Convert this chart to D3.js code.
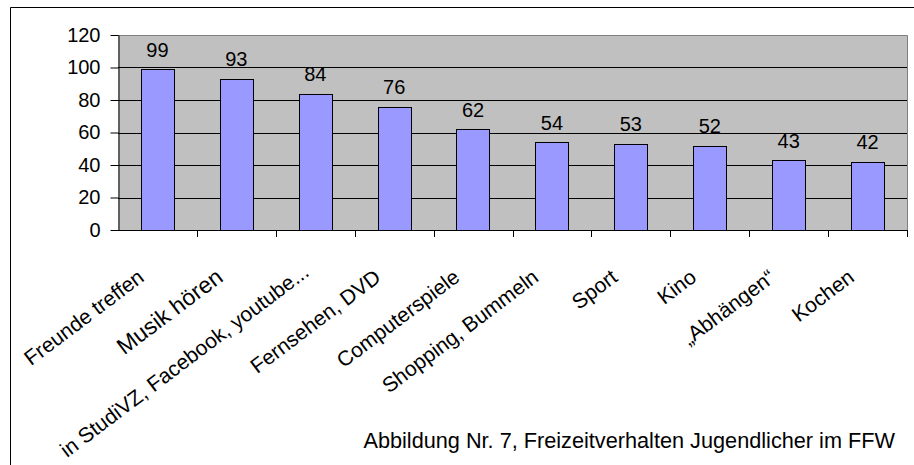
<!DOCTYPE html>
<html>
<head>
<meta charset="utf-8">
<script src="https://cdn.jsdelivr.net/npm/d3@7"></script>
<style>
    body { margin: 0; background: #fff; }
    svg { display: block; font-family: "Liberation Sans", Arial, sans-serif; }
</style>
</head>
<body>
<svg width="914" height="465"></svg>
<script>
let categories = ["Freunde treffen", "Musik hören", "in StudiVZ, Facebook, youtube...", "Fernsehen, DVD",
    "Computerspiele", "Shopping, Bummeln", "Sport", "Kino", "\u201EAbhängen\u201C", "Kochen"];
let values = [99, 93, 84, 76, 62, 54, 53, 52, 43, 42];
let yTicks = [0, 20, 40, 60, 80, 100, 120];
let caption = "Abbildung Nr. 7, Freizeitverhalten Jugendlicher im FFW";

let plotLeft = 118;
let plotRight = 907;
let plotTop = 35;
let plotBottom = 230;
let labelAngle = 37;

function draw () {
    const svg = d3.select("svg");

    // outer frame, cut off at right and bottom
    svg.append("path")
        .attr("d", "M10.5,465V7.5H914")
        .attr("fill", "none")
        .attr("stroke", "#000");

    const x = d3.scaleBand()
        .domain(categories)
        .range([plotLeft, plotRight]);
    const y = d3.scaleLinear()
        .domain([0, 120])
        .range([plotBottom, plotTop]);

    svg.append("rect")
        .attr("x", plotLeft)
        .attr("y", plotTop)
        .attr("width", plotRight - plotLeft)
        .attr("height", plotBottom - plotTop)
        .attr("fill", "#c0c0c0");

    // gridlines
    svg.append("g")
        .selectAll("line")
            .data(yTicks.filter(d => d > 0 && d < 120))
        .enter().append("line")
            .attr("x1", plotLeft)
            .attr("x2", plotRight)
            .attr("y1", d => Math.round(y(d)) + 0.5)
            .attr("y2", d => Math.round(y(d)) + 0.5)
            .attr("stroke", "#000");

    // plot border top / right
    svg.append("path")
        .attr("d", `M${plotLeft},${plotTop + 0.5}H${plotRight + 0.5}V${plotBottom}`)
        .attr("fill", "none")
        .attr("stroke", "#808080");

    const bw = x.bandwidth() * 0.42;
    svg.append("g")
        .selectAll("rect")
            .data(values)
        .enter().append("rect")
            .attr("x", (d, i) => Math.round(x(categories[i]) + x.bandwidth() / 2 - bw / 2) + 0.5)
            .attr("y", d => Math.round(y(d)) + 0.5)
            .attr("width", Math.round(bw))
            .attr("height", d => Math.round(y(0)) - Math.round(y(d)))
            .attr("fill", "#9999ff")
            .attr("stroke", "#000");

    svg.append("g")
        .selectAll("text")
            .data(values)
        .enter().append("text")
            .attr("x", (d, i) => x(categories[i]) + x.bandwidth() / 2)
            .attr("y", d => y(d) - 12.5)
            .attr("text-anchor", "middle")
            .attr("font-size", 20)
            .text(d => d);

    // y axis
    const yAxis = svg.append("g")
        .attr("transform", `translate(${plotLeft + 0.5},0)`)
        .call(d3.axisLeft(y).tickValues(yTicks).tickSize(8).tickSizeOuter(0));
    yAxis.select(".domain").attr("stroke", "#000");
    yAxis.selectAll(".tick text")
        .attr("font-size", 20)
        .attr("font-family", "Liberation Sans, Arial, sans-serif")
        .attr("fill", "#000")
        .attr("x", -18);

    // x axis with ticks between categories
    svg.append("line")
        .attr("x1", plotLeft)
        .attr("x2", plotRight + 1)
        .attr("y1", plotBottom + 0.5)
        .attr("y2", plotBottom + 0.5)
        .attr("stroke", "#000");
    svg.append("g")
        .selectAll("line")
            .data(categories.map((c, i) => i + 1))
        .enter().append("line")
            .attr("x1", i => Math.round(plotLeft + i * x.step()) + 0.5)
            .attr("x2", i => Math.round(plotLeft + i * x.step()) + 0.5)
            .attr("y1", plotBottom)
            .attr("y2", plotBottom + 7)
            .attr("stroke", "#000");

    // rotated category labels; long ones get pushed up along their direction so they stay in the frame
    const rad = labelAngle * Math.PI / 180;
    svg.append("g")
        .selectAll("text")
            .data(categories)
        .enter().append("text")
            .attr("text-anchor", "end")
            .attr("font-size", d => d === "Musik hören" ? 23 : 21)
            .text(d => d)
            .attr("transform", function (d) {
                let len = this.getComputedTextLength();
                let ex = x(d) + x.bandwidth() / 2 - 12;
                let ey = plotBottom + 50;
                let over = ey + len * Math.sin(rad) - 458;
                if (over > 0) {
                    ex += over / Math.tan(rad);
                    ey -= over;
                }
                return `translate(${ex},${ey}) rotate(${-labelAngle})`;
            });

    svg.append("text")
        .attr("x", 895)
        .attr("y", 448)
        .attr("text-anchor", "end")
        .attr("font-size", 21.7)
        .text(caption);
}

draw();
</script>
</body>
</html>
